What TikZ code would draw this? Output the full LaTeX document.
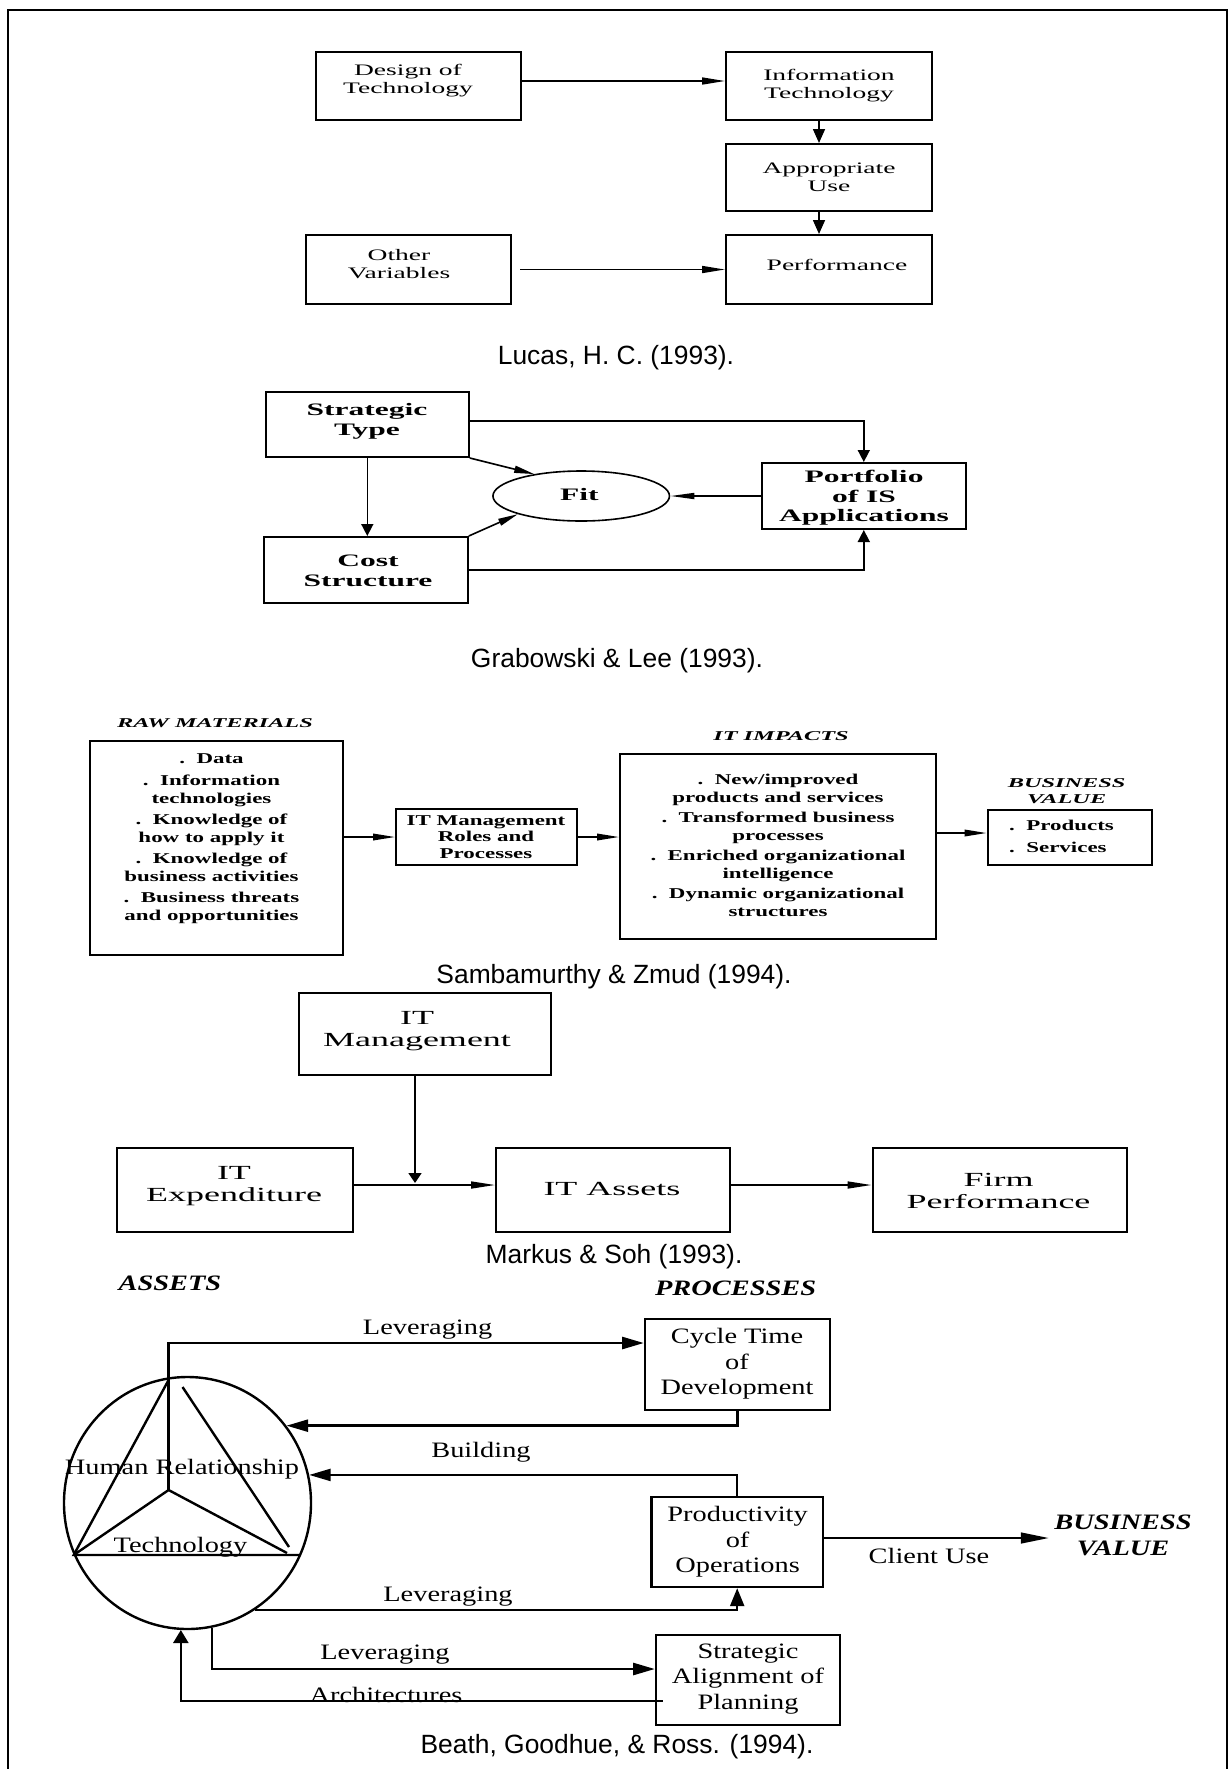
\documentclass[tikz,border=0pt]{standalone}
\usepackage{fontspec}
\setmainfont{Liberation Serif}
\newfontfamily\capfont{Liberation Sans}
\newfontfamily\fa[FakeStretch=1.72]{Liberation Serif}
\newfontfamily\fb[FakeStretch=1.80]{Liberation Serif}
\newfontfamily\fc[FakeStretch=1.53]{Liberation Serif}
\newfontfamily\fch[FakeStretch=1.80]{Liberation Serif}
\newfontfamily\fd[FakeStretch=1.80]{Liberation Serif}
\newfontfamily\fe[FakeStretch=1.29]{Liberation Serif}
\usetikzlibrary{arrows.meta,shapes.geometric,calc}

\tikzset{
  box/.style={draw, line width=1pt, inner sep=0pt},
  boxv/.style={draw, line width=1.2pt, inner sep=0pt},
  txt/.style={inner sep=0pt, align=center},
  capt/.style={inner sep=0pt, font=\capfont\fontsize{13.2pt}{15pt}\selectfont},
  ta/.style={txt, font=\fa\fontsize{8pt}{9pt}\selectfont},
  tb/.style={txt, font=\fb\bfseries\fontsize{8.75pt}{9.75pt}\selectfont},
  tc/.style={txt, font=\fc\bfseries\fontsize{7.5pt}{9pt}\selectfont},
  tch/.style={txt, font=\fch\bfseries\itshape\fontsize{6.75pt}{8pt}\selectfont},
  td/.style={txt, font=\fd\fontsize{10pt}{11pt}\selectfont},
  te/.style={txt, font=\fe\fontsize{11pt}{12.75pt}\selectfont},
  teh/.style={txt, font=\fe\bfseries\itshape\fontsize{11pt}{12.75pt}\selectfont},
  ln/.style={line width=0.8pt},
  lv/.style={line width=1.2pt},
  ah1/.style={ln, -{Triangle[length=11.5pt,width=3.5pt]}},
  av1/.style={ln, -{Triangle[length=7pt,width=6pt]}},
  ah2/.style={ln, -{Triangle[length=12pt,width=3pt]}},
  av2/.style={ln, -{Triangle[length=6pt,width=6pt]}},
  ad2/.style={ln, -{Triangle[length=10pt,width=3.5pt]}},
  ah3/.style={ln, -{Triangle[length=11pt,width=3.3pt]}},
  ah4/.style={ln, -{Triangle[length=12pt,width=3.5pt]}},
  av4/.style={ln, -{Triangle[length=5pt,width=6.5pt]}},
  ah5/.style={lv, -{Triangle[length=10.8pt,width=6pt]}},
  av5/.style={lv, -{Triangle[length=6.5pt,width=7.5pt]}},
  avp/.style={lv, -{Triangle[length=9pt,width=7pt]}},
  ahc/.style={lv, -{Triangle[length=14pt,width=5.3pt]}},
}

\begin{document}
\begin{tikzpicture}[x=0.5pt,y=-0.5pt]
\useasboundingbox (0,0) rectangle (1231,1769);

% outer frame, open at the bottom
\draw[line width=1.2pt] (8,1769) -- (8,10) -- (1227,10) -- (1227,1769);

% ---------------- Lucas (1993) ----------------
\node[box, minimum width=102.5pt, minimum height=34pt] (dot)   at (418.5,85.5) {};
\node[box, minimum width=103pt,   minimum height=34pt] (itech) at (829,85.5) {};
\node[box, minimum width=103pt,   minimum height=33.5pt] (ause)  at (829,177.5) {};
\node[box, minimum width=102.5pt, minimum height=34.5pt] (ovar)  at (408.5,269.5) {};
\node[box, minimum width=103pt,   minimum height=34.5pt] (perf)  at (829,269.5) {};
\node[ta] (dott)   at (408,80.5)  {Design of\\Technology};
\node[ta] (itecht) at (829,86)    {Information\\Technology};
\node[ta] (auset)  at (829,177)   {Appropriate\\Use};
\node[ta] (ovart)  at (399,264.5) {Other\\Variables};
\node[ta] (perft)  at (837,265)   {Performance};
\draw[ah1] ([yshift=2.25pt]dot.east) -- ([yshift=2.25pt]dot.east -| itech.west);
\draw[av1] ([xshift=-5pt]itech.south) -- ([xshift=-5pt]ause.north);
\draw[av1] ([xshift=-5pt]ause.south) -- ([xshift=-5pt]perf.north);
\draw[ah1] ([xshift=4pt]ovar.east) -- (perf.west);
\node[capt] (cap1) at (616,358) {Lucas, H. C. (1993).};

% ---------------- Grabowski & Lee (1993) ----------------
\node[box, minimum width=101.5pt, minimum height=32.5pt] (stype)   at (367.3,424.5) {};
\node[box, minimum width=101.8pt, minimum height=33pt]   (cstruct) at (366,570) {};
\node[box, minimum width=101.8pt, minimum height=33pt]   (portf)   at (863.8,496) {};
\node[draw, ln, ellipse, inner sep=0pt, minimum width=88.25pt, minimum height=25pt] (fit) at (581.2,496) {};
\node[tb] (stypet)   at (367,421.3) {Strategic\\Type};
\node[tb] (cstructt) at (368,571)   {Cost\\Structure};
\node[tb] (portft)   at (864,497.8) {Portfolio\\of IS\\Applications};
\node[tb] (fitt)     at (579.3,494.3) {Fit};
\draw[av2] ([yshift=1.75pt]stype.east) -| (portf.north);
\draw[av2] (cstruct.east) -| (portf.south);
\draw[av2] (stype.south) -- (stype.south |- cstruct.north);
\draw[ad2] (stype.south east) -- (fit.155);
\draw[ad2] (cstruct.north east) -- (fit.196);
\draw[ah2] (portf.west) -- (fit.east);
\node[capt] (cap2) at (617,661) {Grabowski \& Lee (1993).};

% ---------------- Sambamurthy & Zmud (1994) ----------------
\node[box, minimum width=126.5pt, minimum height=107pt]  (raw)     at (216.5,848) {};
\node[box, minimum width=90.5pt,  minimum height=28pt]   (itm)     at (486.5,837) {};
\node[box, minimum width=158pt,   minimum height=92.5pt] (impacts) at (778,846.5) {};
\node[box, minimum width=82.25pt, minimum height=27.5pt] (bvb)     at (1069.8,837.5) {};
\node[tch] (rawh) at (215,723) {RAW MATERIALS};
\node[tch] (imph) at (781,736) {IT IMPACTS};
\node[tch] (bvh)  at (1066.6,791) {BUSINESS\\VALUE};
\node[tc] (rawt) at (211.5,838.5) {.~~Data\\[1.75pt]
  .~~Information\\technologies\\[1.5pt]
  .~~Knowledge of\\how to apply it\\[1.5pt]
  .~~Knowledge of\\business activities\\[1.5pt]
  .~~Business threats\\and opportunities};
\node[tc, font=\fc\bfseries\fontsize{7.5pt}{8.25pt}\selectfont] (itmt) at (486,836.7)
  {IT Management\\Roles and\\Processes};
\node[tc, font=\fc\bfseries\fontsize{7.5pt}{8.75pt}\selectfont] (impt) at (778,845.5)
  {.~~New/improved\\products and services\\[1.5pt]
   .~~Transformed business\\processes\\[1.5pt]
   .~~Enriched organizational\\intelligence\\[1.5pt]
   .~~Dynamic organizational\\structures};
\node[tc, align=left] (bvt) at (1061.5,836) {.~~Products\\[2pt].~~Services};
\draw[ah3] (raw.east |- itm.west) -- (itm.west);
\draw[ah3] (itm.east) -- (itm.east -| impacts.west);
\draw[ah3] ([yshift=2.25pt]bvb.west -| impacts.east) -- ([yshift=2.25pt]bvb.west);
\node[capt] (cap3) at (614,977) {Sambamurthy \& Zmud (1994).};

% ---------------- Markus & Soh (1993) ----------------
\node[box, minimum width=126pt, minimum height=41pt] (itmg)  at (425,1034) {};
\node[box, minimum width=118pt, minimum height=42pt] (itexp) at (235,1190) {};
\node[box, minimum width=117pt, minimum height=42pt] (itass) at (613,1190) {};
\node[box, minimum width=127pt, minimum height=42pt] (firm)  at (999.5,1190) {};
\node[td] (itmgt)  at (417,1031)   {IT\\Management};
\node[td] (itexpt) at (234,1186)   {IT\\Expenditure};
\node[td] (itasst) at (612,1189)   {IT Assets};
\node[td] (firmt)  at (998.5,1191) {Firm\\Performance};
\draw[ah4] ([yshift=2.5pt]itexp.east) -- ([yshift=2.5pt]itexp.east -| itass.west);
\draw[av4] ([xshift=-5pt]itmg.south) -- ([xshift=-5pt,yshift=3.5pt]itmg.south |- itexp.east);
\draw[ah4] ([yshift=2.5pt]itass.east) -- ([yshift=2.5pt]itass.east -| firm.west);
\node[capt] (cap4) at (614,1257) {Markus \& Soh (1993).};

% ---------------- Beath, Goodhue, & Ross (1994) ----------------
\node[teh] (assh)  at (170,1283)   {ASSETS};
\node[teh] (proch) at (735.6,1288) {PROCESSES};
\node[draw, lv, ellipse, inner sep=0pt, minimum width=123.5pt, minimum height=126pt] (circ) at (187.5,1503) {};
\node[boxv, minimum width=92.5pt,  minimum height=45.5pt] (cycle) at (737.5,1364.5) {};
\node[boxv, minimum width=85.75pt, minimum height=45pt]   (prod)  at (737.2,1542) {};
\node[boxv, minimum width=92pt,    minimum height=45pt]   (strat) at (748,1680) {};
\node[te] (cyclet) at (737,1364)   {Cycle Time\\of\\Development};
\node[te] (prodt)  at (737.6,1542) {Productivity\\of\\Operations};
\node[te] (stratt) at (748,1679)   {Strategic\\Alignment of\\Planning};
\node[teh, inner sep=2.5pt] (bvv) at (1123,1535.5) {BUSINESS\\VALUE};

% asset triangle inside the circle
\coordinate (hub)  at (168.6,1490);
\coordinate (apex) at (168.6,1380);
\coordinate (bl)   at (73.7,1555);
\coordinate (br)   at (299,1555);
\draw[lv] (apex) -- (bl) -- (br);
\draw[lv] (182.5,1387) -- (289,1547);
\draw[lv] (bl) -- (hub) -- (287,1553);
\node[te] (hrel) at (182,1469)   {Human Relationship};
\node[te] (tech) at (180.5,1547) {Technology};

% leveraging and building links
\draw[ah5] (hub) |- ([yshift=10.75pt]cycle.west);
\draw[ah5] (cycle.south) |- (circ.38.2);
\draw[ah5] (prod.north) |- (circ.13.1);
\draw[avp] (circ.302) -| (prod.south);
\draw[ah5] (circ.281) |- ([yshift=5.5pt]strat.west);
\draw[av5] ([xshift=4pt,yshift=-10.35pt]strat.west) -| (circ.267);
\draw[ahc] ([yshift=2pt]prod.east) -- ([yshift=2pt]prod.east -| bvv.west);
\node[te] (lev1) at (427.6,1330) {Leveraging};
\node[te] (bld)  at (481,1452)   {Building};
\node[te] (lev2) at (448,1597)   {Leveraging};
\node[te] (lev3) at (385,1655)   {Leveraging};
\node[te] (arch) at (386,1695)   {Architectures};
\node[te] (cuse) at (929,1556)   {Client Use};
\node[capt] (cap5) at (617,1747) {Beath, Goodhue, \& Ross. (1994).};
\end{tikzpicture}
\end{document}
